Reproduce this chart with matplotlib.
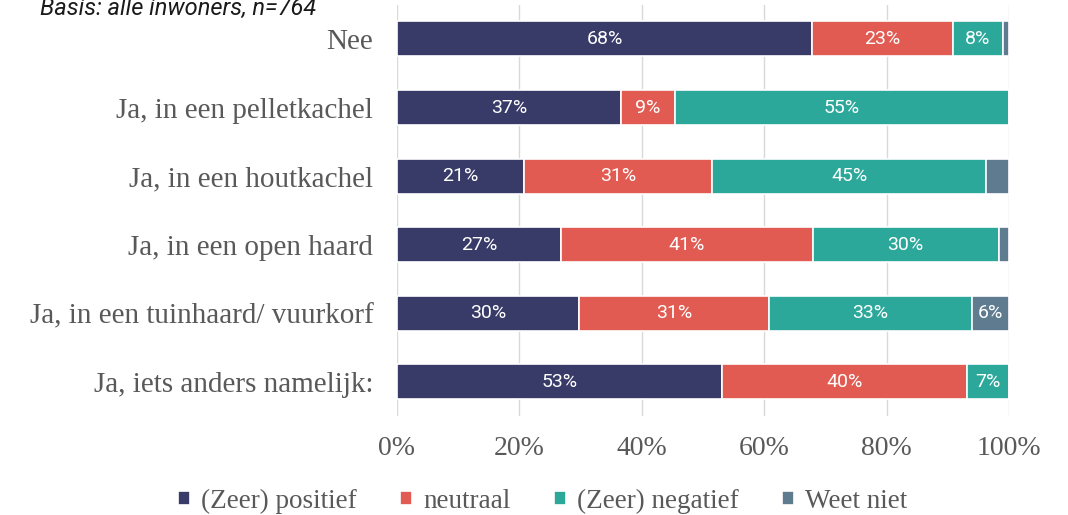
import matplotlib
matplotlib.use("Agg")
import matplotlib.pyplot as plt
import numpy as np

categories = ["Nee", "Ja, in een pelletkachel", "Ja, in een houtkachel",
              "Ja, in een open haard", "Ja, in een tuinhaard/ vuurkorf",
              "Ja, iets anders namelijk:"]
series_names = ["(Zeer) positief", "neutraal", "(Zeer) negatief", "Weet niet"]
positief = [67.8, 36.6, 20.7, 26.8, 29.8, 53.1]
neutraal = [23.0, 8.8, 30.8, 41.1, 30.9, 40.0]
negatief = [8.2, 54.6, 44.8, 30.4, 33.3, 6.9]
weet_niet = [1.0, 0.0, 3.7, 1.7, 6.0, 0.0]
xticks = [0, 20, 40, 60, 80, 100]
subtitle = "Basis: alle inwoners, n=764"

colors = ["#383A68", "#E15B52", "#2BA89A", "#5F7B8F"]
series = [positief, neutraal, negatief, weet_niet]
serif = "Liberation Serif"
grey_text = "#595959"

fig = plt.figure(figsize=(10.68, 5.15), dpi=100)
ax = fig.add_axes([0.3717, 0.192, 0.5731, 0.799])

y = np.arange(len(categories))
left = np.zeros(len(categories))
for vals, col, name in zip(series, colors, series_names):
    vals = np.array(vals)
    ax.barh(y, vals, left=left, height=0.51, color=col, edgecolor="white",
            linewidth=1.2, label=name, zorder=3)
    for yi, (l, v) in enumerate(zip(left, vals)):
        if v >= 5:
            ax.text(l + v / 2, yi, f"{v:.0f}%", ha="center", va="center",
                    color="white", fontsize=14, family="Roboto", zorder=4)
    left += vals

ax.set_xlim(0, 100)
ax.set_ylim(len(categories) - 0.5, -0.5)
ax.set_yticks(y)
ax.set_yticklabels(categories, family=serif, fontsize=21, color=grey_text)
ax.set_xticks(xticks)
ax.set_xticklabels([f"{t}%" for t in xticks], family=serif,
                   fontsize=20, color=grey_text)
ax.tick_params(axis="y", length=0, pad=17)
ax.tick_params(axis="x", length=0, pad=14)
for s in ax.spines.values():
    s.set_visible(False)
ax.grid(axis="x", color="#D9D9D9", linewidth=1, zorder=0)
ax.set_axisbelow(True)

leg = fig.legend(loc="lower center", bbox_to_anchor=(0.508, -0.045), ncol=4,
                 frameon=False, handlelength=0.45, handleheight=0.45,
                 handletextpad=0.4, columnspacing=1.6,
                 prop={"family": serif, "size": 19.5})
for t in leg.get_texts():
    t.set_color(grey_text)

fig.text(40 / 1068, 1 - 15 / 515, subtitle, fontsize=17, style="italic",
         family="Roboto", color="#1a1a1a", ha="left", va="baseline")

fig.savefig("out.png", dpi=100)
